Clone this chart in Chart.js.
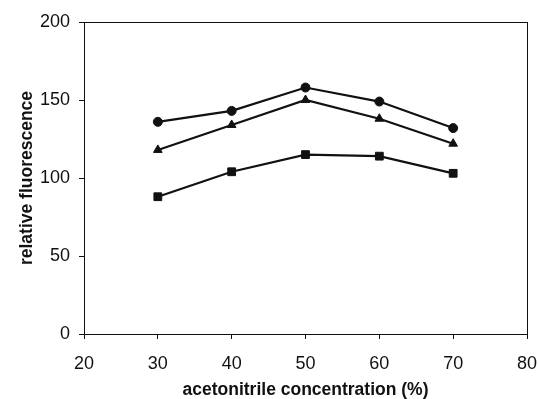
<!DOCTYPE html>
<html>
<head>
<meta charset="utf-8">
<script src="https://cdn.jsdelivr.net/npm/chart.js@4/dist/chart.umd.min.js"></script>
<style>
  html, body { margin: 0; padding: 0; background: #fff; }
  #wrap { width: 538px; height: 399px; }
</style>
</head>
<body>
<div id="wrap"><canvas id="fluoChart" width="538" height="399"></canvas></div>
<script>
// acetonitrile concentration (%) on x
const concentrations = [30, 40, 50, 60, 70];
// three series
const circleSeries   = [136, 143, 158, 149, 132];
const triangleSeries = [118, 134, 150, 138, 122];
const squareSeries   = [88, 104, 115, 114, 103];

const xTicks = [20, 30, 40, 50, 60, 70, 80];
const yTicks = [0, 50, 100, 150, 200];

const ink = '#111';
const fontFamily = '"Liberation Sans", Arial, Helvetica, sans-serif';

function toPoints(values) {
    return concentrations.map((c, i) => ({ x: c, y: values[i] }));
}

function seriesStyle(shape, radius) {
    return {
        borderColor: ink,
        backgroundColor: ink,
        borderWidth: 2.2,
        pointStyle: shape,
        pointRadius: radius,
        pointBackgroundColor: ink,
        pointBorderColor: ink,
        pointBorderWidth: 1,
        tension: 0,
        fill: false
    };
}

// drop the label overhang padding, layout.padding decides the plot box
function noOverhang(s) {
    s.paddingLeft = 0;
    s.paddingRight = 0;
    s.paddingTop = 0;
    s.paddingBottom = 0;
}

// box around plot area (top + right borders like the original)
const frameBox = {
    id: 'frameBox',
    afterDraw(chart) {
        const { ctx, chartArea: a } = chart;
        ctx.save();
        ctx.strokeStyle = ink;
        ctx.lineWidth = 1;
        ctx.strokeRect(a.left + 0.5, a.top + 0.5, a.right - a.left, a.bottom - a.top);
        ctx.restore();
    }
};

const ctx = document.getElementById('fluoChart').getContext('2d');
new Chart(ctx, {
    type: 'line',
    data: {
        datasets: [
            Object.assign({ label: 'circle', data: toPoints(circleSeries) }, seriesStyle('circle', 4.5)),
            Object.assign({ label: 'triangle', data: toPoints(triangleSeries) }, seriesStyle('triangle', 5)),
            Object.assign({ label: 'square', data: toPoints(squareSeries) }, seriesStyle('rect', 5.5))
        ]
    },
    options: {
        responsive: false,
        animation: false,
        layout: { padding: { top: 22, right: 11, left: 0, bottom: 0 } },
        plugins: {
            legend: { display: false },
            tooltip: { enabled: false }
        },
        scales: {
            x: {
                type: 'linear',
                min: 20,
                max: 80,
                afterBuildTicks: s => { s.ticks = xTicks.map(v => ({ value: v })); },
                afterFit: s => { s.height = 65; noOverhang(s); },
                grid: { drawOnChartArea: false, tickLength: 5, color: ink },
                border: { color: ink, width: 1 },
                ticks: {
                    autoSkip: false,
                    maxRotation: 0,
                    padding: 14,
                    color: ink,
                    font: { family: fontFamily, size: 18 }
                },
                title: {
                    display: true,
                    text: 'acetonitrile concentration (%)',
                    color: ink,
                    font: { family: fontFamily, size: 17.5, weight: 'bold', lineHeight: 1 },
                    padding: { top: 0, bottom: 0 }
                }
            },
            y: {
                type: 'linear',
                min: 0,
                max: 200,
                afterBuildTicks: s => { s.ticks = yTicks.map(v => ({ value: v })); },
                afterFit: s => { s.width = 84; noOverhang(s); },
                grid: { drawOnChartArea: false, tickLength: 5, color: ink },
                border: { color: ink, width: 1 },
                ticks: {
                    padding: 9,
                    color: ink,
                    font: { family: fontFamily, size: 18 }
                },
                title: {
                    display: true,
                    text: 'relative fluorescence',
                    color: ink,
                    font: { family: fontFamily, size: 17.5, weight: 'bold', lineHeight: 1 },
                    padding: { top: 18, bottom: 0 }
                }
            }
        }
    },
    plugins: [frameBox]
});
</script>
</body>
</html>
